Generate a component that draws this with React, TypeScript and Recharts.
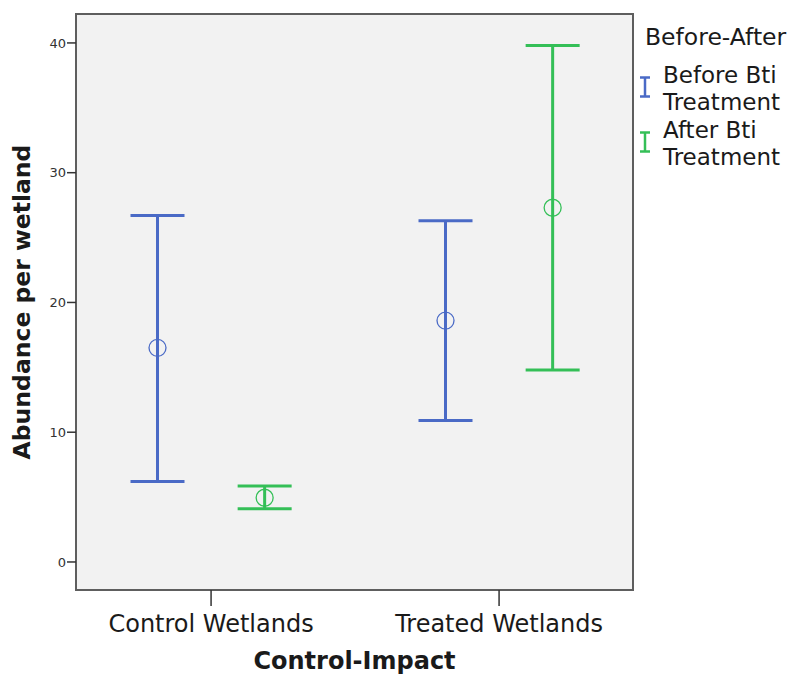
import React from 'react';
import { ScatterChart, Scatter, XAxis, YAxis, ErrorBar, Legend, CartesianGrid, ReferenceArea } from 'recharts';

const categories = ['Control Wetlands', 'Treated Wetlands'];
const seriesNames = ['Before Bti Treatment', 'After Bti Treatment'];
const beforeMean = [16.5, 18.6];
const beforeLow = [6.2, 10.9];
const beforeHigh = [26.7, 26.3];
const afterMean = [4.95, 27.3];
const afterLow = [4.1, 14.8];
const afterHigh = [5.85, 39.8];
const yTicks = [0, 10, 20, 30, 40];

const BLUE = '#4a6ac6';
const GREEN = '#34bf57';
const FONT = "'DejaVu Sans', sans-serif";
const X_DOMAIN: [number, number] = [-0.469, 1.465];
const Y_DOMAIN: [number, number] = [-2.16, 42.23];
const DODGE = 0.186;

const build = (mean: number[], low: number[], high: number[], shift: number) =>
  categories.map((c, i) => ({
    name: c,
    x: i + shift,
    y: mean[i],
    err: [mean[i] - low[i], high[i] - mean[i]],
  }));

const beforeData = build(beforeMean, beforeLow, beforeHigh, -DODGE);
const afterData = build(afterMean, afterLow, afterHigh, DODGE);

const ring = (color: string) => (props: any) => (
  <circle cx={props.cx} cy={props.cy} r={8.5} fill="none" stroke={color} strokeWidth={1.3} />
);

const renderLegend = (props: any) => {
  const payload = [...(props.payload || [])].sort(
    (a: any, b: any) => seriesNames.indexOf(String(a.value)) - seriesNames.indexOf(String(b.value))
  );
  return (
    <svg width={170} height={175} style={{ display: 'block', fontFamily: FONT }}>
      <text x={9} y={45} fontSize={23.5} fill="#1a1a1a">Before-After</text>
      {payload.map((p: any, i: number) => {
        const words = String(p.value).split(' ');
        const l1 = words.slice(0, words.length - 1).join(' ');
        const l2 = words[words.length - 1];
        const base = 83 + i * 55;
        const mid = base + 4;
        return (
          <g key={i}>
            <line x1={9} x2={9} y1={mid - 10} y2={mid + 10} stroke={p.color} strokeWidth={2.5} />
            <line x1={4} x2={14} y1={mid - 9.5} y2={mid - 9.5} stroke={p.color} strokeWidth={2.5} />
            <line x1={4} x2={14} y1={mid + 9.5} y2={mid + 9.5} stroke={p.color} strokeWidth={2.5} />
            <text x={27} y={base} fontSize={23} fill="#1a1a1a">{l1}</text>
            <text x={27} y={base + 27} fontSize={23} fill="#1a1a1a">{l2}</text>
          </g>
        );
      })}
    </svg>
  );
};

const YLabel = (props: any) => {
  const vb = props.viewBox || {};
  const cy = vb.y + vb.height / 2;
  const x = vb.x + 22;
  return (
    <text x={x} y={cy} transform={`rotate(-90 ${x} ${cy})`} textAnchor="middle" fontSize={23.5} fontWeight="bold" fill="#1a1a1a" fontFamily={FONT}>
      Abundance per wetland
    </text>
  );
};

const XLabel = (props: any) => {
  const vb = props.viewBox || {};
  const cx = vb.x + vb.width / 2;
  return (
    <text x={cx} y={vb.y + 79} textAnchor="middle" fontSize={24} fontWeight="bold" fill="#1a1a1a" fontFamily={FONT}>
      Control-Impact
    </text>
  );
};

export default function App() {
  return (
    <div style={{ position: 'absolute', left: 0, top: 0, width: 806, height: 675, background: '#fff', fontFamily: FONT }}>
      <ScatterChart width={806} height={675} margin={{ top: 14, right: 173, bottom: 5, left: 8 }}>
        <CartesianGrid fill="#f2f2f2" horizontal={false} vertical={false} />
        <XAxis
          type="number"
          dataKey="x"
          domain={X_DOMAIN}
          allowDataOverflow
          ticks={[0, 1]}
          tickFormatter={(v: number) => categories[Math.round(v)]}
          axisLine={false}
          tickLine={{ stroke: '#333', strokeWidth: 1.5 }}
          tickSize={16}
          tickMargin={9}
          height={80}
          tick={{ fontSize: 24, fill: '#1a1a1a', fontFamily: FONT }}
          label={<XLabel />}
        />
        <YAxis
          type="number"
          dataKey="y"
          domain={Y_DOMAIN}
          allowDataOverflow
          ticks={yTicks}
          axisLine={false}
          tickLine={{ stroke: '#333', strokeWidth: 1.5 }}
          tickSize={9}
          tickMargin={1}
          width={68}
          tick={{ fontSize: 13, fill: '#333', fontFamily: FONT }}
          label={<YLabel />}
        />
        <ReferenceArea x1={X_DOMAIN[0]} x2={X_DOMAIN[1]} y1={Y_DOMAIN[0]} y2={Y_DOMAIN[1]} fill="none" stroke="#5e5e5e" strokeWidth={2} fillOpacity={0} />
        <Scatter name={seriesNames[0]} data={beforeData} fill={BLUE} stroke={BLUE} shape={ring(BLUE)} isAnimationActive={false}>
          <ErrorBar dataKey="err" direction="y" width={27} stroke={BLUE} strokeWidth={3} />
        </Scatter>
        <Scatter name={seriesNames[1]} data={afterData} fill={GREEN} stroke={GREEN} shape={ring(GREEN)} isAnimationActive={false}>
          <ErrorBar dataKey="err" direction="y" width={27} stroke={GREEN} strokeWidth={3} />
        </Scatter>
        <Legend
          layout="vertical"
          align="center"
          verticalAlign="middle"
          content={renderLegend}
          wrapperStyle={{ position: 'absolute', left: 636, top: 0, width: 170, height: 175, margin: 0 }}
        />
      </ScatterChart>
    </div>
  );
}
